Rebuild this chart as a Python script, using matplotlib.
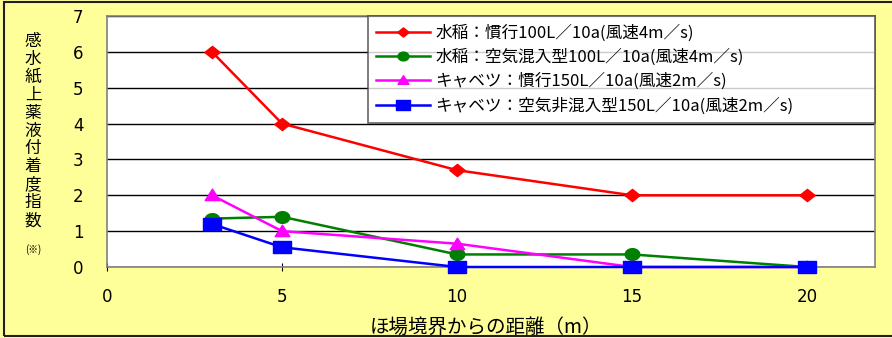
import matplotlib
matplotlib.use("Agg")
import numpy as np
import matplotlib.pyplot as plt
from matplotlib.patches import Rectangle
from matplotlib.path import Path

plt.rcParams['font.family'] = ['Noto Sans CJK JP', 'DejaVu Sans']

# distance from field boundary (m)
distance = [3, 5, 10, 15, 20]

rice_conv = [6.0, 4.0, 2.7, 2.0, 2.0]
rice_air = [1.35, 1.4, 0.35, 0.35, 0.0]
cabbage_conv = [2.0, 1.0, 0.65, 0.0, 0.0]
cabbage_air = [1.2, 0.55, 0.0, 0.0, 0.0]

series_labels = [
    "水稲：慣行100L／10a(風速4m／s)",
    "水稲：空気混入型100L／10a(風速4m／s)",
    "キャベツ：慣行150L／10a(風速2m／s)",
    "キャベツ：空気非混入型150L／10a(風速2m／s)",
]

x_ticks = [0, 5, 10, 15, 20]
y_ticks = [0, 1, 2, 3, 4, 5, 6, 7]

bg = "#FFFF99"


def wide_marker(kind, stretch=1.3):
    """Marker paths a little wider than tall."""
    if kind == "diamond":
        v = [(0, 1), (stretch, 0), (0, -1), (-stretch, 0), (0, 1)]
    elif kind == "triangle":
        v = [(0, 1), (stretch, -0.8), (-stretch, -0.8), (0, 1)]
    elif kind == "square":
        v = [(-stretch, -1), (stretch, -1), (stretch, 1), (-stretch, 1), (-stretch, -1)]
    else:  # ellipse
        t = np.linspace(0, 2 * np.pi, 40)
        v = list(zip(stretch * np.cos(t), np.sin(t)))
    return Path(v, closed=True)


fig = plt.figure(figsize=(8.92, 3.38), dpi=100, facecolor=bg)
ax = fig.add_axes([107 / 892, (338 - 267) / 338, (875 - 107) / 892, (267 - 16) / 338])
ax.set_facecolor("white")

styles = [
    dict(color="#FF0000", marker=wide_marker("diamond", 1.25), markersize=11),
    dict(color="#008000", marker=wide_marker("ellipse", 1.25), markersize=10.5),
    dict(color="#FF00FF", marker=wide_marker("triangle", 1.15), markersize=10.5),
    dict(color="#0000FF", marker=wide_marker("square", 1.45), markersize=13),
]
for ys, lab, st in zip([rice_conv, rice_air, cabbage_conv, cabbage_air], series_labels, styles):
    ax.plot(distance, ys, label=lab, linewidth=1.8, clip_on=False, zorder=3, **st)

ax.set_xlim(0, 21.94)
ax.set_ylim(0, 7)
ax.set_xticks(x_ticks)
ax.set_yticks(y_ticks)
for t in ax.get_xticklabels() + ax.get_yticklabels():
    t.set_fontfamily("DejaVu Sans")
ax.tick_params(axis="y", length=0, pad=17, labelsize=12)
ax.tick_params(axis="x", length=6, direction="inout", pad=12, labelsize=12)
ax.yaxis.grid(True, color="black", linewidth=1.0)
ax.set_axisbelow(True)
for s in ax.spines.values():
    s.set_color("#808080")
    s.set_linewidth(1.2)

ax.set_xlabel("ほ場境界からの距離（m）", fontsize=14)
ax.xaxis.set_label_coords((486 - 107) / 768, -(317 - 267) / 251)

ylabel = "感水紙上薬液付着度指数"
fig.text(33 / 892, 1 - 131 / 338, "\n".join(ylabel), ha="center", va="center",
         fontsize=12, linespacing=1.07)
fig.text(33 / 892, 1 - 250 / 338, "(※)", ha="center", va="center", fontsize=7)

leg_left = (368 - 107) / 768
leg_bottom = (267 - 123) / 251
leg = ax.legend(loc="upper left", bbox_to_anchor=(leg_left, leg_bottom, 1 - leg_left, 1 - leg_bottom),
                mode="expand", frameon=True, fancybox=False, fontsize=12,
                handlelength=3.2, borderpad=0.5, labelspacing=0.42, borderaxespad=0.0,
                handletextpad=0.35, markerscale=0.75)
leg.get_frame().set_edgecolor("#404040")
leg.get_frame().set_linewidth(1.2)

# outer frame around the figure
fig.patches.append(Rectangle((4 / 892, 2 / 338), 1.0, 1 - 4 / 338, transform=fig.transFigure,
                             fill=False, edgecolor="#202020", linewidth=1.5))

fig.savefig("out.png", dpi=100, facecolor=bg)
